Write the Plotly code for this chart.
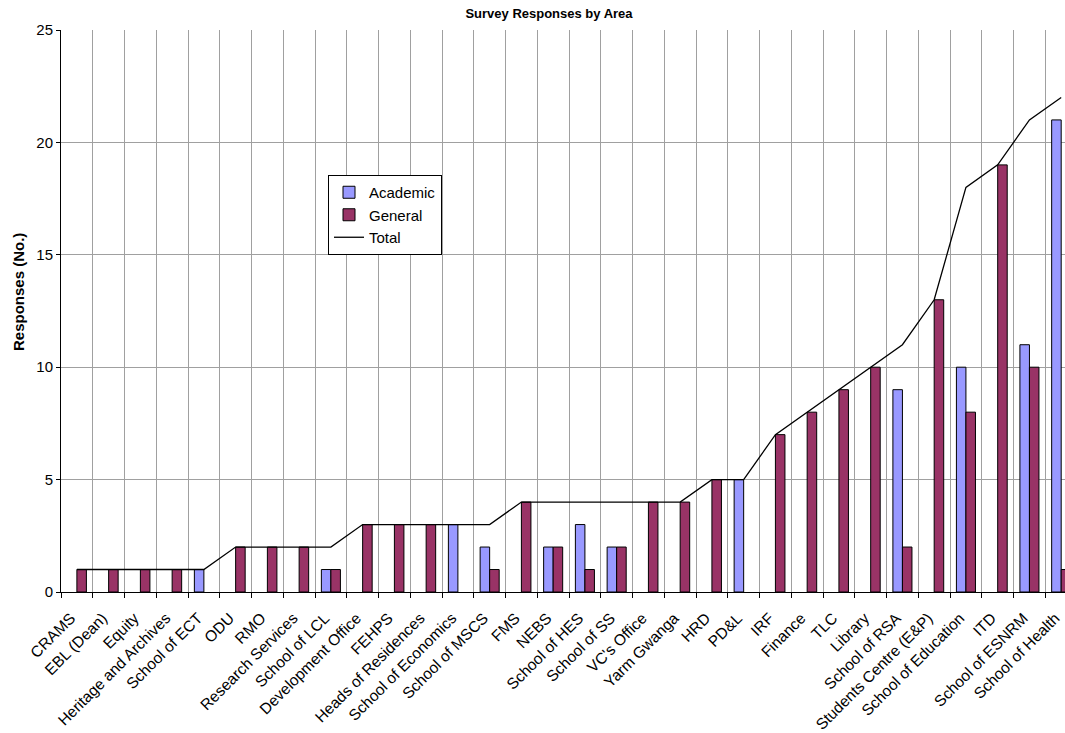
import plotly.graph_objects as go

categories = ["CRAMS", "EBL (Dean)", "Equity", "Heritage and Archives", "School of ECT",
              "ODU", "RMO", "Research Services", "School of LCL", "Development Office",
              "FEHPS", "Heads of Residences", "School of Economics", "School of MSCS", "FMS",
              "NEBS", "School of HES", "School of SS", "VC's Office", "Yarm Gwanga",
              "HRD", "PD&L", "IRF", "Finance", "TLC", "Library", "School of RSA",
              "Students Centre (E&P)", "School of Education", "ITD", "School of ESNRM",
              "School of Health"]
academic = [0, 0, 0, 0, 1, 0, 0, 0, 1, 0, 0, 0, 3, 2, 0, 2, 3, 2, 0, 0,
            0, 5, 0, 0, 0, 0, 9, 0, 10, 0, 11, 21]
general = [1, 1, 1, 1, 0, 2, 2, 2, 1, 3, 3, 3, 0, 1, 4, 2, 1, 2, 4, 4,
           5, 0, 7, 8, 9, 10, 2, 13, 8, 19, 10, 1]
total = [1, 1, 1, 1, 1, 2, 2, 2, 2, 3, 3, 3, 3, 3, 4, 4, 4, 4, 4, 4,
         5, 5, 7, 8, 9, 10, 11, 13, 18, 19, 21, 22]

FONT = "Liberation Sans, Arial, sans-serif"

def nz(vals):
    # zero-height bars are not drawn (no outline at the baseline)
    return [v if v else None for v in vals]

fig = go.Figure()
fig.add_trace(go.Bar(x=categories, y=nz(academic), name="Academic",
                     marker=dict(color="#9999FF", line=dict(color="black", width=1))))
fig.add_trace(go.Bar(x=categories, y=nz(general), name="General",
                     marker=dict(color="#993366", line=dict(color="black", width=1))))
fig.add_trace(go.Scatter(x=categories, y=total, name="Total", mode="lines",
                         line=dict(color="black", width=1.3)))

fig.update_layout(
    width=1065, height=733,
    margin=dict(l=61, r=0, t=30, b=141),
    paper_bgcolor="white", plot_bgcolor="white",
    font=dict(family=FONT, size=14, color="black"),
    barmode="group", bargap=0.4, bargroupgap=0,
    title=dict(text="<b>Survey Responses by Area</b>", font=dict(size=13, family=FONT),
               xref="container", x=549/1065, xanchor="center",
               yref="container", y=1 - 13/733, yanchor="middle"),
    showlegend=True,
    legend=dict(x=(328-61)/1004, y=(592-175)/562, xanchor="left", yanchor="top",
                bordercolor="black", borderwidth=1, bgcolor="white",
                font=dict(size=15, family=FONT), itemwidth=30,
                tracegroupgap=0),
    xaxis=dict(type="category", range=[-0.5, 31.12], tickson="boundaries",
               tickangle=-45, ticks="outside", ticklen=5, tickcolor="black",
               ticklabelstandoff=10, ticklabelshift=-6,
               showline=True, linecolor="black", linewidth=1,
               showgrid=True, gridcolor="#a0a0a0", gridwidth=1,
               tickfont=dict(size=15.5, family=FONT)),
    yaxis=dict(range=[0, 25], dtick=5, ticks="outside", ticklen=4, tickcolor="black",
               showline=True, linecolor="black", linewidth=1,
               showgrid=True, gridcolor="#a0a0a0", gridwidth=1, zeroline=False,
               tickfont=dict(size=15, family=FONT)),
    annotations=[dict(text="<b>Responses (No.)</b>", textangle=-90,
                      xref="paper", yref="paper", x=(18-61)/1004, y=(592-292)/562,
                      xanchor="center", yanchor="middle", showarrow=False,
                      font=dict(size=15, family=FONT))],
)

fig.write_html("out.html")
